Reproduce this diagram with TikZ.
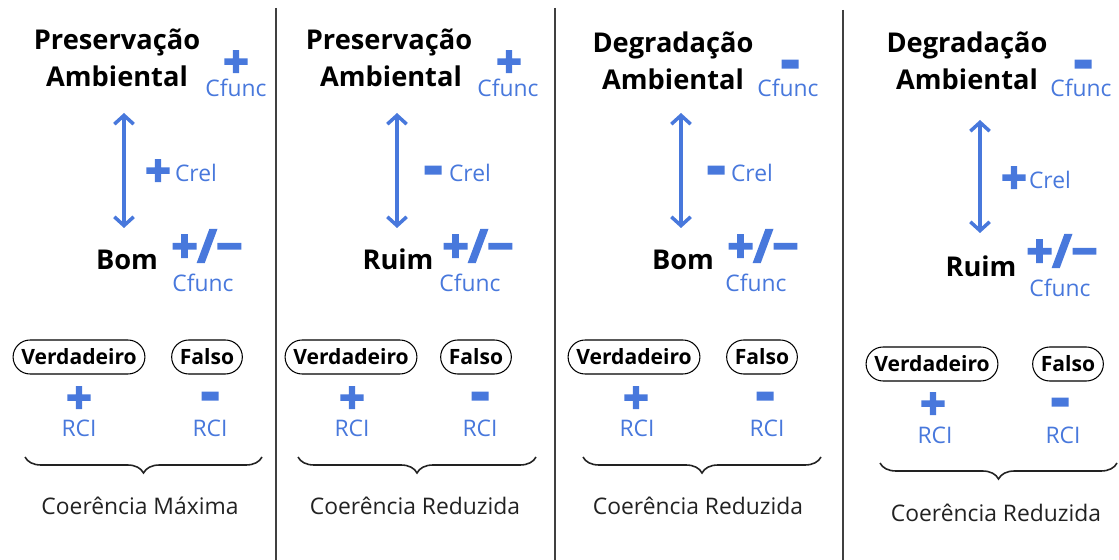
\documentclass[tikz,border=0pt]{standalone}
\usepackage{fontspec}
\setmainfont{Open Sans}
\newfontfamily\signfont[FakeBold=4]{Open Sans}
\usepackage{tikz}
\usetikzlibrary{arrows.meta, shapes.misc, decorations.pathreplacing}
\definecolor{signblue}{RGB}{72,120,220}
\definecolor{captiongray}{RGB}{34,34,34}
\tikzstyle{headtext} = [inner sep=0pt, anchor=base, text=black,
font=\bfseries\fontsize{15.5}{18}\selectfont]
\tikzstyle{bluetext} = [inner sep=0pt, anchor=base, text=signblue,
font=\fontsize{13}{15}\selectfont]
\tikzstyle{signtext} = [inner sep=0pt, text=signblue,
font=\signfont\bfseries\fontsize{25}{25}\selectfont]
\tikzstyle{minustext} = [inner sep=0pt, text=signblue,
font=\signfont\bfseries\fontsize{32}{32}\selectfont]
\tikzstyle{bigsigntext} = [inner sep=0pt, text=signblue,
font=\signfont\bfseries\fontsize{26}{26}\selectfont]
\tikzstyle{pill} = [rounded rectangle, 
draw=black, 
line width=0.6pt, 
minimum height=0.68cm, 
inner xsep=3.5pt, 
font=\bfseries\fontsize{12}{14}\selectfont]
\tikzstyle{captiontext} = [inner sep=0pt, anchor=base, text=captiongray,
font=\fontsize{13}{15}\selectfont]
\tikzstyle{dblarrow} = [line width=2pt, signblue, 
{Straight Barb[length=5pt,width=11pt]}-{Straight Barb[length=5pt,width=11pt]}]
\tikzstyle{bracestyle} = [decorate, decoration={brace, amplitude=0.32cm}, 
line width=0.9pt, captiongray]
\tikzstyle{divider} = [line width=0.8pt, black!75]

\begin{document}
\begin{tikzpicture}[x=0.02cm, y=-0.02cm]
    \useasboundingbox (0,0) rectangle (1119,560);

    \coordinate (d1top) at (276,8);
    \coordinate (d1bot) at (276,560);
    \coordinate (d2top) at (555,8);
    \coordinate (d2bot) at (555,560);
    \coordinate (d3top) at (843,10);
    \coordinate (d3bot) at (843,560);
    \draw [divider] (d1top) -- (d1bot);
    \draw [divider] (d2top) -- (d2bot);
    \draw [divider] (d3top) -- (d3bot);

    % Preservação / Bom
    \node at (117,50) (pres1) [headtext] {Preservação};
    \node at (117,87) (amb1) [headtext] {Ambiental};
    \node at (236,64) (cfsign1) [signtext] {+};
    \node at (236,97) (cf1) [bluetext] {Cfunc};
    \coordinate (a1top) at (124,113);
    \coordinate (a1bot) at (124,228);
    \node at (158,173) (crsign1) [signtext] {+};
    \node at (196,182) (cr1) [bluetext] {Crel};
    \node at (127,270) (bom1) [headtext] {Bom};
    \node at (207,246) (pm1) [bigsigntext] {+/−};
    \node at (203,292) (cfb1) [bluetext] {Cfunc};
    \node at (79,357) (ver1) [pill] {Verdadeiro};
    \node at (207,357) (fal1) [pill] {Falso};
    \node at (79,400) (rsign1a) [signtext] {+};
    \node at (79,437) (rci1a) [bluetext] {RCI};
    \node at (210,402) (rsign1b) [minustext] {-};
    \node at (210,437) (rci1b) [bluetext] {RCI};
    \coordinate (b1r) at (262,457);
    \coordinate (b1l) at (25,457);
    \node at (140,514) (coe1) [captiontext] {Coerência Máxima};
    \draw [dblarrow] (a1top) -- (a1bot);
    \draw [bracestyle] (b1r) -- (b1l);

    % Preservação / Ruim
    \node at (389,50) (pres2) [headtext] {Preservação};
    \node at (391,87) (amb2) [headtext] {Ambiental};
    \node at (509,64) (cfsign2) [signtext] {+};
    \node at (508,97) (cf2) [bluetext] {Cfunc};
    \coordinate (a2top) at (397,113);
    \coordinate (a2bot) at (397,228);
    \node at (433,176) (crsign2) [minustext] {-};
    \node at (470,182) (cr2) [bluetext] {Crel};
    \node at (398,270) (ruim2) [headtext] {Ruim};
    \node at (478,246) (pm2) [bigsigntext] {+/−};
    \node at (470,292) (cfb2) [bluetext] {Cfunc};
    \node at (351,357) (ver2) [pill] {Verdadeiro};
    \node at (476,357) (fal2) [pill] {Falso};
    \node at (352,400) (rsign2a) [signtext] {+};
    \node at (352,437) (rci2a) [bluetext] {RCI};
    \node at (480,402) (rsign2b) [minustext] {-};
    \node at (480,437) (rci2b) [bluetext] {RCI};
    \coordinate (b2r) at (536,457);
    \coordinate (b2l) at (298,457);
    \node at (415,514) (coe2) [captiontext] {Coerência Reduzida};
    \draw [dblarrow] (a2top) -- (a2bot);
    \draw [bracestyle] (b2r) -- (b2l);

    % Degradação / Bom
    \node at (673,53) (deg3) [headtext] {Degradação};
    \node at (673,90) (amb3) [headtext] {Ambiental};
    \node at (790,70) (cfsign3) [minustext] {-};
    \node at (788,97) (cf3) [bluetext] {Cfunc};
    \coordinate (a3top) at (681,113);
    \coordinate (a3bot) at (681,228);
    \node at (716,176) (crsign3) [minustext] {-};
    \node at (752,182) (cr3) [bluetext] {Crel};
    \node at (683,270) (bom3) [headtext] {Bom};
    \node at (763,246) (pm3) [bigsigntext] {+/−};
    \node at (756,292) (cfb3) [bluetext] {Cfunc};
    \node at (634,357) (ver3) [pill] {Verdadeiro};
    \node at (762,357) (fal3) [pill] {Falso};
    \node at (636,400) (rsign3a) [signtext] {+};
    \node at (637,437) (rci3a) [bluetext] {RCI};
    \node at (765,402) (rsign3b) [minustext] {-};
    \node at (767,437) (rci3b) [bluetext] {RCI};
    \coordinate (b3r) at (821,457);
    \coordinate (b3l) at (583,457);
    \node at (698,514) (coe3) [captiontext] {Coerência Reduzida};
    \draw [dblarrow] (a3top) -- (a3bot);
    \draw [bracestyle] (b3r) -- (b3l);

    % Degradação / Ruim
    \node at (967,53) (deg4) [headtext] {Degradação};
    \node at (967,90) (amb4) [headtext] {Ambiental};
    \node at (1083,70) (cfsign4) [minustext] {-};
    \node at (1081,97) (cf4) [bluetext] {Cfunc};
    \coordinate (a4top) at (980,120);
    \coordinate (a4bot) at (980,233);
    \node at (1014,180) (crsign4) [signtext] {+};
    \node at (1050,189) (cr4) [bluetext] {Crel};
    \node at (981,277) (ruim4) [headtext] {Ruim};
    \node at (1062,251) (pm4) [bigsigntext] {+/−};
    \node at (1060,297) (cfb4) [bluetext] {Cfunc};
    \node at (932,364) (ver4) [pill] {Verdadeiro};
    \node at (1068,364) (fal4) [pill] {Falso};
    \node at (933,406) (rsign4a) [signtext] {+};
    \node at (935,443) (rci4a) [bluetext] {RCI};
    \node at (1060,408) (rsign4b) [minustext] {-};
    \node at (1063,443) (rci4b) [bluetext] {RCI};
    \coordinate (b4r) at (1117,463);
    \coordinate (b4l) at (880,463);
    \node at (996,521) (coe4) [captiontext] {Coerência Reduzida};
    \draw [dblarrow] (a4top) -- (a4bot);
    \draw [bracestyle] (b4r) -- (b4l);
\end{tikzpicture}
\end{document}
